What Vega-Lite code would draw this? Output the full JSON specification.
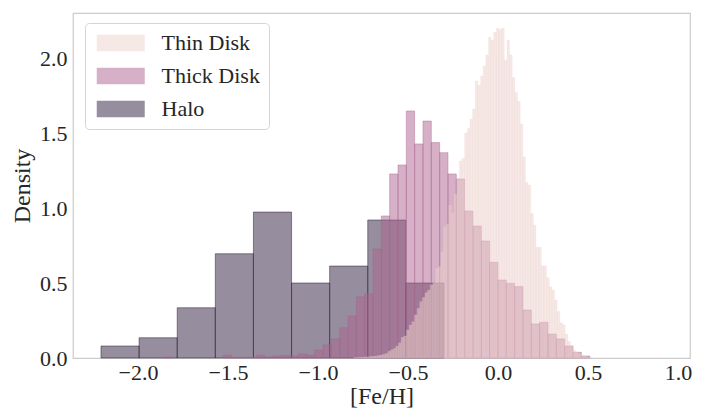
{
  "$schema": "https://vega.github.io/schema/vega-lite/v6.json",
  "width": 617,
  "height": 345,
  "autosize": {"type": "none"},
  "padding": {"left": 73, "top": 13, "right": 16, "bottom": 50},
  "background": "white",
  "config": {
    "view": {"stroke": "#cccccc", "strokeWidth": 1.25},
    "font": "Liberation Serif",
    "axis": {"grid": false, "domain": false, "ticks": false, "tickSize": 0, "labelFont": "Liberation Serif", "labelFontSize": 22, "labelColor": "#262626", "titleFont": "Liberation Serif", "titleFontSize": 24, "titleFontWeight": "normal", "titleColor": "#262626"}
  },
  "data": {"values": [
    {"g":"Thin Disk","a":-0.8024,"b":-0.7877,"d":0.003},
    {"g":"Thin Disk","a":-0.7877,"b":-0.7730,"d":0.004},
    {"g":"Thin Disk","a":-0.7730,"b":-0.7583,"d":0.005},
    {"g":"Thin Disk","a":-0.7583,"b":-0.7436,"d":0.006},
    {"g":"Thin Disk","a":-0.7436,"b":-0.7290,"d":0.008},
    {"g":"Thin Disk","a":-0.7290,"b":-0.7143,"d":0.008},
    {"g":"Thin Disk","a":-0.7143,"b":-0.6996,"d":0.010},
    {"g":"Thin Disk","a":-0.6996,"b":-0.6849,"d":0.012},
    {"g":"Thin Disk","a":-0.6849,"b":-0.6702,"d":0.014},
    {"g":"Thin Disk","a":-0.6702,"b":-0.6555,"d":0.016},
    {"g":"Thin Disk","a":-0.6555,"b":-0.6408,"d":0.020},
    {"g":"Thin Disk","a":-0.6408,"b":-0.6261,"d":0.025},
    {"g":"Thin Disk","a":-0.6261,"b":-0.6114,"d":0.030},
    {"g":"Thin Disk","a":-0.6114,"b":-0.5967,"d":0.045},
    {"g":"Thin Disk","a":-0.5967,"b":-0.5821,"d":0.055},
    {"g":"Thin Disk","a":-0.5821,"b":-0.5674,"d":0.064},
    {"g":"Thin Disk","a":-0.5674,"b":-0.5527,"d":0.080},
    {"g":"Thin Disk","a":-0.5527,"b":-0.5380,"d":0.102},
    {"g":"Thin Disk","a":-0.5380,"b":-0.5233,"d":0.138},
    {"g":"Thin Disk","a":-0.5233,"b":-0.5086,"d":0.147},
    {"g":"Thin Disk","a":-0.5086,"b":-0.4939,"d":0.187},
    {"g":"Thin Disk","a":-0.4939,"b":-0.4792,"d":0.220},
    {"g":"Thin Disk","a":-0.4792,"b":-0.4645,"d":0.242},
    {"g":"Thin Disk","a":-0.4645,"b":-0.4498,"d":0.287},
    {"g":"Thin Disk","a":-0.4498,"b":-0.4352,"d":0.331},
    {"g":"Thin Disk","a":-0.4352,"b":-0.4205,"d":0.376},
    {"g":"Thin Disk","a":-0.4205,"b":-0.4058,"d":0.404},
    {"g":"Thin Disk","a":-0.4058,"b":-0.3911,"d":0.436},
    {"g":"Thin Disk","a":-0.3911,"b":-0.3764,"d":0.453},
    {"g":"Thin Disk","a":-0.3764,"b":-0.3617,"d":0.487},
    {"g":"Thin Disk","a":-0.3617,"b":-0.3470,"d":0.502},
    {"g":"Thin Disk","a":-0.3470,"b":-0.3323,"d":0.598},
    {"g":"Thin Disk","a":-0.3323,"b":-0.3176,"d":0.609},
    {"g":"Thin Disk","a":-0.3176,"b":-0.3029,"d":0.709},
    {"g":"Thin Disk","a":-0.3029,"b":-0.2883,"d":0.876},
    {"g":"Thin Disk","a":-0.2883,"b":-0.2736,"d":0.893},
    {"g":"Thin Disk","a":-0.2736,"b":-0.2589,"d":1.020},
    {"g":"Thin Disk","a":-0.2589,"b":-0.2442,"d":0.969},
    {"g":"Thin Disk","a":-0.2442,"b":-0.2295,"d":1.093},
    {"g":"Thin Disk","a":-0.2295,"b":-0.2148,"d":1.200},
    {"g":"Thin Disk","a":-0.2148,"b":-0.2001,"d":1.313},
    {"g":"Thin Disk","a":-0.2001,"b":-0.1854,"d":1.330},
    {"g":"Thin Disk","a":-0.1854,"b":-0.1707,"d":1.500},
    {"g":"Thin Disk","a":-0.1707,"b":-0.1560,"d":1.530},
    {"g":"Thin Disk","a":-0.1560,"b":-0.1414,"d":1.593},
    {"g":"Thin Disk","a":-0.1414,"b":-0.1267,"d":1.660},
    {"g":"Thin Disk","a":-0.1267,"b":-0.1120,"d":1.847},
    {"g":"Thin Disk","a":-0.1120,"b":-0.0973,"d":1.820},
    {"g":"Thin Disk","a":-0.0973,"b":-0.0826,"d":1.880},
    {"g":"Thin Disk","a":-0.0826,"b":-0.0679,"d":1.947},
    {"g":"Thin Disk","a":-0.0679,"b":-0.0532,"d":2.020},
    {"g":"Thin Disk","a":-0.0532,"b":-0.0385,"d":2.138},
    {"g":"Thin Disk","a":-0.0385,"b":-0.0238,"d":2.120},
    {"g":"Thin Disk","a":-0.0238,"b":-0.0091,"d":2.173},
    {"g":"Thin Disk","a":-0.0091,"b":0.0056,"d":2.198},
    {"g":"Thin Disk","a":0.0056,"b":0.0202,"d":2.190},
    {"g":"Thin Disk","a":0.0202,"b":0.0349,"d":2.200},
    {"g":"Thin Disk","a":0.0349,"b":0.0496,"d":1.987},
    {"g":"Thin Disk","a":0.0496,"b":0.0643,"d":2.120},
    {"g":"Thin Disk","a":0.0643,"b":0.0790,"d":2.020},
    {"g":"Thin Disk","a":0.0790,"b":0.0937,"d":1.870},
    {"g":"Thin Disk","a":0.0937,"b":0.1084,"d":1.770},
    {"g":"Thin Disk","a":0.1084,"b":0.1231,"d":1.710},
    {"g":"Thin Disk","a":0.1231,"b":0.1378,"d":1.560},
    {"g":"Thin Disk","a":0.1378,"b":0.1525,"d":1.340},
    {"g":"Thin Disk","a":0.1525,"b":0.1671,"d":1.170},
    {"g":"Thin Disk","a":0.1671,"b":0.1818,"d":1.153},
    {"g":"Thin Disk","a":0.1818,"b":0.1965,"d":0.964},
    {"g":"Thin Disk","a":0.1965,"b":0.2112,"d":0.887},
    {"g":"Thin Disk","a":0.2112,"b":0.2259,"d":0.738},
    {"g":"Thin Disk","a":0.2259,"b":0.2406,"d":0.738},
    {"g":"Thin Disk","a":0.2406,"b":0.2553,"d":0.615},
    {"g":"Thin Disk","a":0.2553,"b":0.2700,"d":0.615},
    {"g":"Thin Disk","a":0.2700,"b":0.2847,"d":0.535},
    {"g":"Thin Disk","a":0.2847,"b":0.2994,"d":0.475},
    {"g":"Thin Disk","a":0.2994,"b":0.3140,"d":0.453},
    {"g":"Thin Disk","a":0.3140,"b":0.3287,"d":0.387},
    {"g":"Thin Disk","a":0.3287,"b":0.3434,"d":0.310},
    {"g":"Thin Disk","a":0.3434,"b":0.3581,"d":0.235},
    {"g":"Thin Disk","a":0.3581,"b":0.3728,"d":0.220},
    {"g":"Thin Disk","a":0.3728,"b":0.3875,"d":0.160},
    {"g":"Thin Disk","a":0.3875,"b":0.4022,"d":0.110},
    {"g":"Thin Disk","a":0.4022,"b":0.4169,"d":0.080},
    {"g":"Thin Disk","a":0.4169,"b":0.4316,"d":0.053},
    {"g":"Thin Disk","a":0.4316,"b":0.4463,"d":0.040},
    {"g":"Thin Disk","a":0.4463,"b":0.4609,"d":0.030},
    {"g":"Thin Disk","a":0.4609,"b":0.4756,"d":0.020},
    {"g":"Thin Disk","a":0.4756,"b":0.4903,"d":0.012},
    {"g":"Thin Disk","a":0.4903,"b":0.5050,"d":0.008},
    {"g":"Thin Disk","a":0.5050,"b":0.5197,"d":0.004},
    {"g":"Thick Disk","a":-1.8519,"b":-1.8056,"d":0.007},
    {"g":"Thick Disk","a":-1.5278,"b":-1.4815,"d":0.020},
    {"g":"Thick Disk","a":-1.4815,"b":-1.4352,"d":0.005},
    {"g":"Thick Disk","a":-1.4352,"b":-1.3889,"d":0.005},
    {"g":"Thick Disk","a":-1.3889,"b":-1.3426,"d":0.005},
    {"g":"Thick Disk","a":-1.3426,"b":-1.2963,"d":0.020},
    {"g":"Thick Disk","a":-1.2963,"b":-1.2500,"d":0.007},
    {"g":"Thick Disk","a":-1.2500,"b":-1.2037,"d":0.013},
    {"g":"Thick Disk","a":-1.2037,"b":-1.1574,"d":0.017},
    {"g":"Thick Disk","a":-1.1574,"b":-1.1111,"d":0.013},
    {"g":"Thick Disk","a":-1.1111,"b":-1.0648,"d":0.027},
    {"g":"Thick Disk","a":-1.0648,"b":-1.0185,"d":0.020},
    {"g":"Thick Disk","a":-1.0185,"b":-0.9722,"d":0.053},
    {"g":"Thick Disk","a":-0.9722,"b":-0.9259,"d":0.087},
    {"g":"Thick Disk","a":-0.9259,"b":-0.8796,"d":0.127},
    {"g":"Thick Disk","a":-0.8796,"b":-0.8333,"d":0.202},
    {"g":"Thick Disk","a":-0.8333,"b":-0.7870,"d":0.280},
    {"g":"Thick Disk","a":-0.7870,"b":-0.7407,"d":0.407},
    {"g":"Thick Disk","a":-0.7407,"b":-0.6945,"d":0.427},
    {"g":"Thick Disk","a":-0.6945,"b":-0.6482,"d":0.727},
    {"g":"Thick Disk","a":-0.6482,"b":-0.6019,"d":0.947},
    {"g":"Thick Disk","a":-0.6019,"b":-0.5556,"d":1.227},
    {"g":"Thick Disk","a":-0.5556,"b":-0.5093,"d":1.287},
    {"g":"Thick Disk","a":-0.5093,"b":-0.4630,"d":1.647},
    {"g":"Thick Disk","a":-0.4630,"b":-0.4167,"d":1.427},
    {"g":"Thick Disk","a":-0.4167,"b":-0.3704,"d":1.580},
    {"g":"Thick Disk","a":-0.3704,"b":-0.3241,"d":1.436},
    {"g":"Thick Disk","a":-0.3241,"b":-0.2778,"d":1.369},
    {"g":"Thick Disk","a":-0.2778,"b":-0.2315,"d":1.227},
    {"g":"Thick Disk","a":-0.2315,"b":-0.1852,"d":1.193},
    {"g":"Thick Disk","a":-0.1852,"b":-0.1389,"d":0.980},
    {"g":"Thick Disk","a":-0.1389,"b":-0.0926,"d":0.880},
    {"g":"Thick Disk","a":-0.0926,"b":-0.0463,"d":0.780},
    {"g":"Thick Disk","a":-0.0463,"b":0.0000,"d":0.638},
    {"g":"Thick Disk","a":0.0000,"b":0.0463,"d":0.520},
    {"g":"Thick Disk","a":0.0463,"b":0.0926,"d":0.498},
    {"g":"Thick Disk","a":0.0926,"b":0.1389,"d":0.476},
    {"g":"Thick Disk","a":0.1389,"b":0.1852,"d":0.320},
    {"g":"Thick Disk","a":0.1852,"b":0.2315,"d":0.227},
    {"g":"Thick Disk","a":0.2315,"b":0.2778,"d":0.238},
    {"g":"Thick Disk","a":0.2778,"b":0.3241,"d":0.160},
    {"g":"Thick Disk","a":0.3241,"b":0.3704,"d":0.127},
    {"g":"Thick Disk","a":0.3704,"b":0.4167,"d":0.080},
    {"g":"Thick Disk","a":0.4167,"b":0.4630,"d":0.038},
    {"g":"Thick Disk","a":0.4630,"b":0.5093,"d":0.013},
    {"g":"Halo","a":-2.2056,"b":-1.9939,"d":0.080},
    {"g":"Halo","a":-1.9939,"b":-1.7821,"d":0.135},
    {"g":"Halo","a":-1.7821,"b":-1.5704,"d":0.335},
    {"g":"Halo","a":-1.5704,"b":-1.3587,"d":0.695},
    {"g":"Halo","a":-1.3587,"b":-1.1469,"d":0.973},
    {"g":"Halo","a":-1.1469,"b":-0.9352,"d":0.500},
    {"g":"Halo","a":-0.9352,"b":-0.7235,"d":0.613},
    {"g":"Halo","a":-0.7235,"b":-0.5117,"d":0.920},
    {"g":"Halo","a":-0.5117,"b":-0.3000,"d":0.500}
  ]},
  "encoding": {
    "x": {"field": "a", "type": "quantitative", "scale": {"domain": [-2.3611, 1.0667], "nice": false, "zero": false},
      "axis": {"values": [-2, -1.5, -1, -0.5, 0, 0.5, 1], "format": ".1f", "title": "[Fe/H]", "labelPadding": 4, "titlePadding": 1}},
    "x2": {"field": "b"},
    "y": {"field": "d", "type": "quantitative", "stack": null, "scale": {"domain": [0, 2.3], "nice": false},
      "axis": {"values": [0, 0.5, 1, 1.5, 2], "format": ".1f", "title": "Density", "labelPadding": 6, "titlePadding": 5}},
    "y2": {"datum": 0},
    "color": {"field": "g", "type": "nominal",
      "scale": {"domain": ["Thin Disk", "Thick Disk", "Halo"], "range": ["#edd1cb", "#ab618d", "#2d1e3e"]},
      "legend": {"title": null, "orient": "none", "legendX": 12, "legendY": 10,
        "symbolType": "M-1,-1L4.82,-1L4.82,1L-1,1Z", "symbolSize": 272, "symbolOpacity": 0.5, "symbolStrokeWidth": 0,
        "labelFont": "Liberation Serif", "labelFontSize": 22, "labelColor": "#262626", "labelOffset": 45.5,
        "rowPadding": 11, "padding": 9, "strokeColor": "#d5d5d5", "fillColor": "white", "cornerRadius": 4}}
  },
  "layer": [
    {"transform": [{"filter": "datum.g === 'Halo'"}],
     "mark": {"type": "bar", "fillOpacity": 0.5, "stroke": "#2d1e3e", "strokeOpacity": 0.5, "strokeWidth": 1}},
    {"transform": [{"filter": "datum.g === 'Thick Disk'"}],
     "mark": {"type": "bar", "fillOpacity": 0.5, "stroke": "#ab618d", "strokeOpacity": 0.5, "strokeWidth": 0.8}},
    {"transform": [{"filter": "datum.g === 'Thin Disk'"}],
     "mark": {"type": "bar", "fillOpacity": 0.5, "stroke": "#edd1cb", "strokeOpacity": 0.5, "strokeWidth": 0.3}}
  ]
}
